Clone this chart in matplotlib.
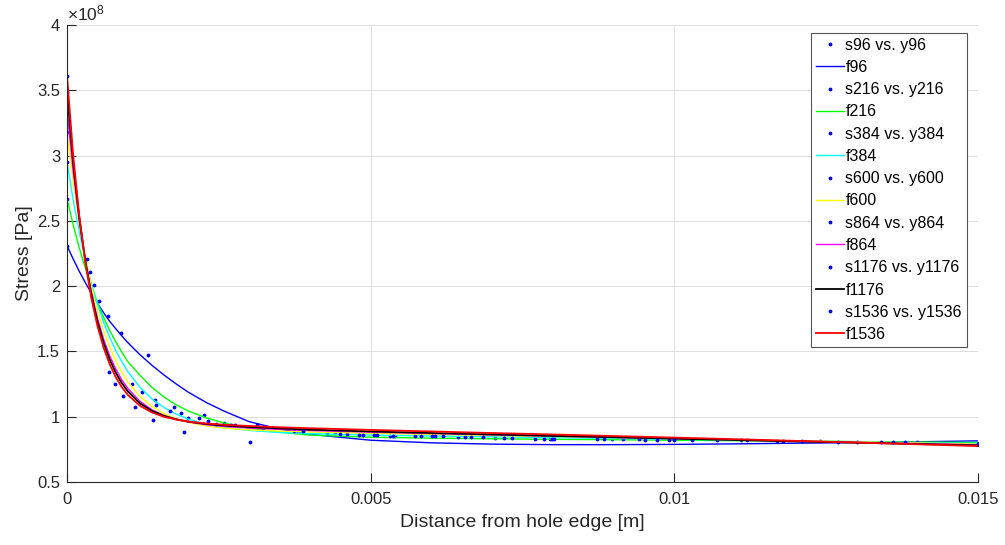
import numpy as np
import matplotlib
matplotlib.use("Agg")
import matplotlib.pyplot as plt
from matplotlib.ticker import FuncFormatter

plt.rcParams['font.family'] = ['Liberation Sans', 'DejaVu Sans']
plt.rcParams['mathtext.default'] = 'regular'

# ---------------- data (x in mm, stress in 1e8 Pa) ----------------
mesh_sizes = [96, 216, 384, 600, 864, 1176, 1536]
fit_colors = ['#0000ff', '#00ff00', '#00ffff', '#ffff00', '#ff00ff', '#000000', '#ff0000']

# sample points (blue dots) of each mesh
s96_x = [0, 0.889, 1.328, 2.25, 4.413, 7.953, 15]
s96_y = [2.31, 1.643, 1.472, 1.010, 0.874, 0.831, 0.79]
s216_x = [0, 0.670, 1.229, 1.871, 2.590, 3.798, 5.40, 7.047, 8.973, 11.097, 13.003, 15]
s216_y = [2.67, 1.770, 1.191, 1.031, 0.954, 0.890, 0.855, 0.840, 0.828, 0.819, 0.809, 0.79]
s384_x = [0, 0.532, 1.065, 1.449, 1.998, 2.695, 3.233, 4.276, 5.318, 6.438, 7.706, 9.155,
          10.697, 12.398, 13.99, 15]
s384_y = [2.95, 1.888, 1.25, 1.130, 0.992, 0.939, 0.911, 0.878, 0.855, 0.846, 0.832, 0.827,
          0.820, 0.814, 0.803, 0.79]
s600_x = [0, 0.445, 0.927, 1.465, 2.174, 2.766, 3.743, 4.605, 5.73, 6.553, 7.854, 9.418,
          11.201, 12.70, 15]
s600_y = [3.18, 2.008, 1.161, 1.089, 0.992, 0.936, 0.893, 0.871, 0.851, 0.845, 0.831, 0.826,
          0.819, 0.81, 0.79]
s864_x = [0, 0.379, 0.796, 1.120, 1.696, 2.316, 3.123, 4.495, 5.055, 5.829, 6.652, 7.986,
          8.726, 9.917, 11.695, 13.398, 15]
s864_y = [3.35, 2.11, 1.25, 1.071, 1.041, 0.969, 0.939, 0.864, 0.861, 0.851, 0.845, 0.831,
          0.828, 0.822, 0.816, 0.805, 0.79]
s1176_x = [0, 0.335, 0.692, 1.421, 1.762, 2.453, 3.89, 4.874, 5.368, 6.01, 6.85, 7.195,
           8.018, 8.842, 9.517, 10.296, 11.794, 13.596, 15]
s1176_y = [3.49, 2.21, 1.339, 0.977, 1.071, 0.944, 0.891, 0.861, 0.855, 0.850, 0.842, 0.839,
           0.830, 0.828, 0.825, 0.821, 0.816, 0.805, 0.79]
s1536_x = [0, 1.932, 3.013, 4.81, 5.104, 6.06, 6.19, 7.327, 9.714, 9.994, 12.097, 13.798, 15]
s1536_y = [3.61, 0.883, 0.804, 0.863, 0.858, 0.850, 0.849, 0.839, 0.825, 0.822, 0.815,
           0.804, 0.79]

# fitted curves, read at these distances
fit_x = [0, 0.1, 0.2, 0.3, 0.4, 0.5, 0.6, 0.7, 0.8, 0.9, 1.0, 1.2, 1.4, 1.6, 1.8, 2.0,
         2.3, 2.6, 3.0, 3.5, 4, 5, 6, 7, 8, 9, 10, 11, 12, 13, 14, 15]
f96 = [2.31, 2.209, 2.115, 2.028, 1.946, 1.869, 1.798, 1.732, 1.675, 1.62, 1.568, 1.475,
       1.393, 1.318, 1.250, 1.187, 1.107, 1.040, 0.962, 0.905, 0.865, 0.820, 0.800, 0.790,
       0.786, 0.786, 0.788, 0.792, 0.797, 0.802, 0.808, 0.815]
f216 = [2.67, 2.472, 2.296, 2.140, 2.000, 1.875, 1.763, 1.664, 1.575, 1.496, 1.422, 1.318,
        1.224, 1.150, 1.090, 1.043, 0.990, 0.950, 0.912, 0.882, 0.859, 0.843, 0.836, 0.831,
        0.827, 0.8235, 0.820, 0.8165, 0.813, 0.8095, 0.806, 0.8025]
f384 = [2.95, 2.664, 2.417, 2.204, 2.022, 1.864, 1.727, 1.610, 1.509, 1.422, 1.347, 1.226,
        1.136, 1.069, 1.019, 0.981, 0.942, 0.916, 0.895, 0.879, 0.870, 0.8595, 0.8525, 0.846,
        0.8396, 0.8333, 0.827, 0.8207, 0.8144, 0.8081, 0.8018, 0.7955]
f600 = [3.18, 2.800, 2.483, 2.219, 1.999, 1.816, 1.663, 1.536, 1.430, 1.342, 1.268, 1.156,
        1.077, 1.022, 0.984, 0.956, 0.929, 0.913, 0.899, 0.890, 0.883, 0.8735, 0.8652, 0.8569,
        0.8486, 0.8403, 0.832, 0.8237, 0.8154, 0.8071, 0.7988, 0.7905]
f864 = [3.35, 2.879, 2.500, 2.196, 1.952, 1.756, 1.597, 1.470, 1.367, 1.284, 1.217, 1.118,
        1.053, 1.009, 0.980, 0.959, 0.938, 0.925, 0.913, 0.903, 0.894, 0.882, 0.871, 0.861,
        0.851, 0.8415, 0.832, 0.8227, 0.8134, 0.8041, 0.7948, 0.7855]
f1176 = [3.49, 2.953, 2.530, 2.198, 1.937, 1.731, 1.568, 1.440, 1.339, 1.259, 1.195, 1.103,
         1.044, 1.006, 0.980, 0.962, 0.944, 0.932, 0.921, 0.910, 0.901, 0.887, 0.875, 0.864,
         0.853, 0.843, 0.832, 0.822, 0.811, 0.801, 0.791, 0.7805]
f1536 = [3.61, 3.008, 2.544, 2.187, 1.910, 1.697, 1.532, 1.404, 1.305, 1.228, 1.168, 1.084,
         1.032, 0.999, 0.978, 0.963, 0.948, 0.938, 0.929, 0.919, 0.912, 0.899, 0.887, 0.875,
         0.864, 0.852, 0.840, 0.828, 0.815, 0.802, 0.789, 0.775]

x_ticks = [0, 0.005, 0.01, 0.015]
y_ticks = [0.5, 1, 1.5, 2, 2.5, 3, 3.5, 4]

samples_x = [s96_x, s216_x, s384_x, s600_x, s864_x, s1176_x, s1536_x]
samples_y = [s96_y, s216_y, s384_y, s600_y, s864_y, s1176_y, s1536_y]
fits = [f96, f216, f384, f600, f864, f1176, f1536]

# ---------------- figure ----------------
AX_COL = '#262626'
fig = plt.figure(figsize=(10.05, 5.45), dpi=100)
ax = fig.add_axes([0.0667, 0.1156, 0.9065, 0.8385])

fx = np.array(fit_x) * 1e-3
for n, sx, sy, fy, col in zip(mesh_sizes, samples_x, samples_y, fits, fit_colors):
    ax.plot(np.array(sx) * 1e-3, sy, linestyle='none', marker='.', color='#0000ff',
            markersize=3.5, label=f's{n} vs. y{n}')
    lw = 1.3 if n in (1176, 1536) else 1.0
    ax.plot(fx, fy, '-', color=col, linewidth=lw, label=f'f{n}')

ax.set_xlim(0, 0.015)
ax.set_ylim(0.5, 4)
ax.set_xticks(x_ticks)
ax.set_yticks(y_ticks)
fmt = FuncFormatter(lambda v, p: f'{v:g}')
ax.xaxis.set_major_formatter(fmt)
ax.yaxis.set_major_formatter(fmt)

ax.grid(True, color='#dfdfdf', linewidth=0.7)
ax.set_axisbelow(True)
for s in ('top', 'right'):
    ax.spines[s].set_visible(False)
for s in ('left', 'bottom'):
    ax.spines[s].set_color(AX_COL)
    ax.spines[s].set_linewidth(0.8)
ax.tick_params(direction='in', length=6.5, width=0.8, colors=AX_COL, labelsize=12)
ax.tick_params(axis='x', pad=7)
ax.tick_params(axis='y', pad=5)

ax.set_xlabel('Distance from hole edge [m]', fontsize=14, color=AX_COL, labelpad=5)
ax.set_ylabel('Stress [Pa]', fontsize=14, color=AX_COL, labelpad=3)
ax.text(0.0, 1.004, '×10$^{8}$', transform=ax.transAxes, ha='left', va='bottom',
        fontsize=12.5, color=AX_COL)

leg = ax.legend(loc='upper right', bbox_to_anchor=(0.9876, 0.983), borderaxespad=0,
                fontsize=11.5, numpoints=1, handlelength=1.75, handletextpad=0.1,
                labelspacing=0.455, borderpad=0.3, fancybox=False, framealpha=1,
                edgecolor='#555555', markerscale=1.0)
leg.get_frame().set_linewidth(0.8)
for t in leg.get_texts():
    t.set_color('#000000')

fig.savefig('out.png', dpi=100)
